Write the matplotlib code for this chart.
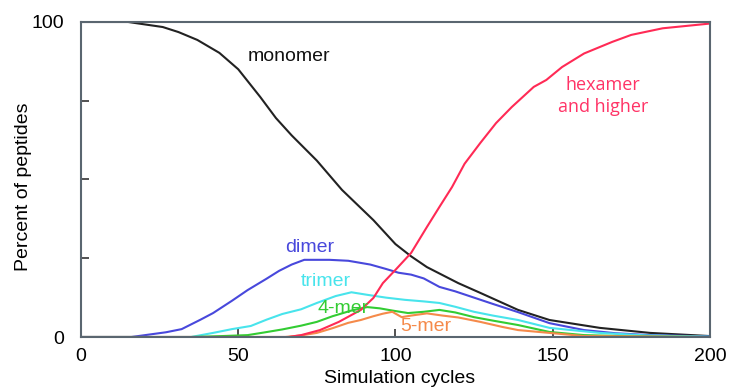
import matplotlib.pyplot as plt

plt.rcParams['font.family'] = ['Liberation Sans', 'DejaVu Sans']

# readings
mono_x = [0, 15, 26, 31, 37, 44, 50, 57, 62, 67, 75, 83, 93, 100, 105, 110, 120, 127, 133, 139, 149, 165, 181, 200]
mono_y = [100, 100, 98.4, 96.8, 94.3, 90.2, 85, 76.2, 69.5, 64, 56, 46.7, 37.1, 29.5, 25.6, 22.2, 17.1, 14, 11.3, 8.6, 5.4, 2.9, 1.3, 0.3]

di_x = [0, 16, 27, 32, 38, 42, 48, 53, 59, 63, 67, 71, 79, 85, 92, 97, 101, 105, 109, 114, 119, 125, 131, 139, 149, 160, 170, 181, 200]
di_y = [0, 0, 1.5, 2.5, 5.5, 7.6, 11.5, 14.9, 18.5, 21, 23, 24.5, 24.5, 24.2, 23, 21.6, 20.4, 19.8, 18.6, 15.9, 14.5, 12.5, 10.5, 7.9, 4.4, 2.2, 1.2, 0.6, 0.2]

tri_x = [0, 35, 42, 48, 54, 59, 64, 70, 75, 81, 86, 91, 97, 103, 109, 114, 119, 125, 131, 139, 149, 165, 180, 200]
tri_y = [0, 0, 1.3, 2.5, 3.5, 5.5, 7.3, 8.8, 10.8, 13, 14.2, 13.4, 12.5, 11.8, 11.3, 10.8, 9.6, 8, 6.8, 5.4, 2.9, 1.3, 0.5, 0.1]

tet_x = [0, 35, 45, 53, 58, 64, 70, 75, 80, 86, 91, 95, 99, 104, 109, 114, 119, 125, 131, 139, 149, 160, 175, 200]
tet_y = [0, 0, 0.3, 0.6, 1.4, 2.4, 3.6, 4.8, 6.6, 8.4, 9.5, 9.1, 8.4, 7.6, 8, 8.6, 7.8, 6.3, 5.2, 3.8, 1.6, 0.6, 0.2, 0]

pen_x = [0, 65, 70, 75, 80, 85, 89, 93, 96, 99, 102, 105, 110, 115, 120, 127, 134, 139, 149, 160, 200]
pen_y = [0, 0, 0.5, 1.3, 2.8, 4.5, 5.4, 6.6, 7.4, 8, 6.3, 6.8, 7.5, 6.8, 6.2, 4.8, 3.2, 2.2, 1.3, 0.3, 0]

hex_x = [0, 66, 70, 76, 82, 89, 93, 96, 100, 105, 110, 114, 118, 122, 127, 132, 137, 144, 148, 153, 160, 169, 175, 185, 200]
hex_y = [0, 0, 0.6, 2.2, 4.8, 8.6, 12.4, 17.1, 21.3, 26.7, 34.9, 41.3, 47.6, 55, 61.6, 67.9, 73, 79.4, 81.6, 85.7, 90, 93.7, 95.9, 98, 99.5]

fig = plt.figure(figsize=(7.32, 3.92), dpi=100)
ax = fig.add_axes([0.1107, 0.1403, 0.859, 0.8036])

ax.plot(mono_x, mono_y, color='#222222', lw=1.5)
ax.plot(di_x, di_y, color='#4848dc', lw=1.5)
ax.plot(tri_x, tri_y, color='#48e4ec', lw=1.5)
ax.plot(tet_x, tet_y, color='#33cc33', lw=1.5)
ax.plot(pen_x, pen_y, color='#f58a4a', lw=1.5)
ax.plot(hex_x, hex_y, color='#ff2a55', lw=1.5)

ax.text(66, 89, 'monomer', color='#111111', fontsize=14, ha='center', va='center')
ax.text(72.8, 28.3, 'dimer', color='#4848dc', fontsize=14, ha='center', va='center')
ax.text(77.9, 17.5, 'trimer', color='#48e4ec', fontsize=14, ha='center', va='center')
ax.text(83.3, 9.2, '4-mer', color='#33cc33', fontsize=14, ha='center', va='center')
ax.text(109.7, 3.2, '5-mer', color='#f58a4a', fontsize=14, ha='center', va='center')
ax.text(166, 76.5, 'hexamer\nand higher', color='#ff3366', fontsize=13,
        ha='center', va='center', family='Open Sans', linespacing=1.3)

ax.set_xlim(0, 200)
ax.set_ylim(0, 100)
ax.set_xticks([0, 50, 100, 150, 200])
ax.set_yticks([0, 25, 50, 75, 100])
ax.set_yticklabels(['0', '', '', '', '100'])
ax.tick_params(direction='in', length=6, width=1.2, labelsize=14, color='#333333')
ax.tick_params(axis='x', pad=8)
ax.tick_params(axis='y', pad=12)

for s in ax.spines.values():
    s.set_color('#5a6670')
    s.set_linewidth(1.5)

ax.set_xlabel('Simulation cycles', fontsize=14)
ax.set_ylabel('Percent of peptides', fontsize=14)
ax.xaxis.set_label_coords(0.507, -0.105)
ax.yaxis.set_label_coords(-0.078, 0.476)

fig.savefig('out.png', dpi=100)
